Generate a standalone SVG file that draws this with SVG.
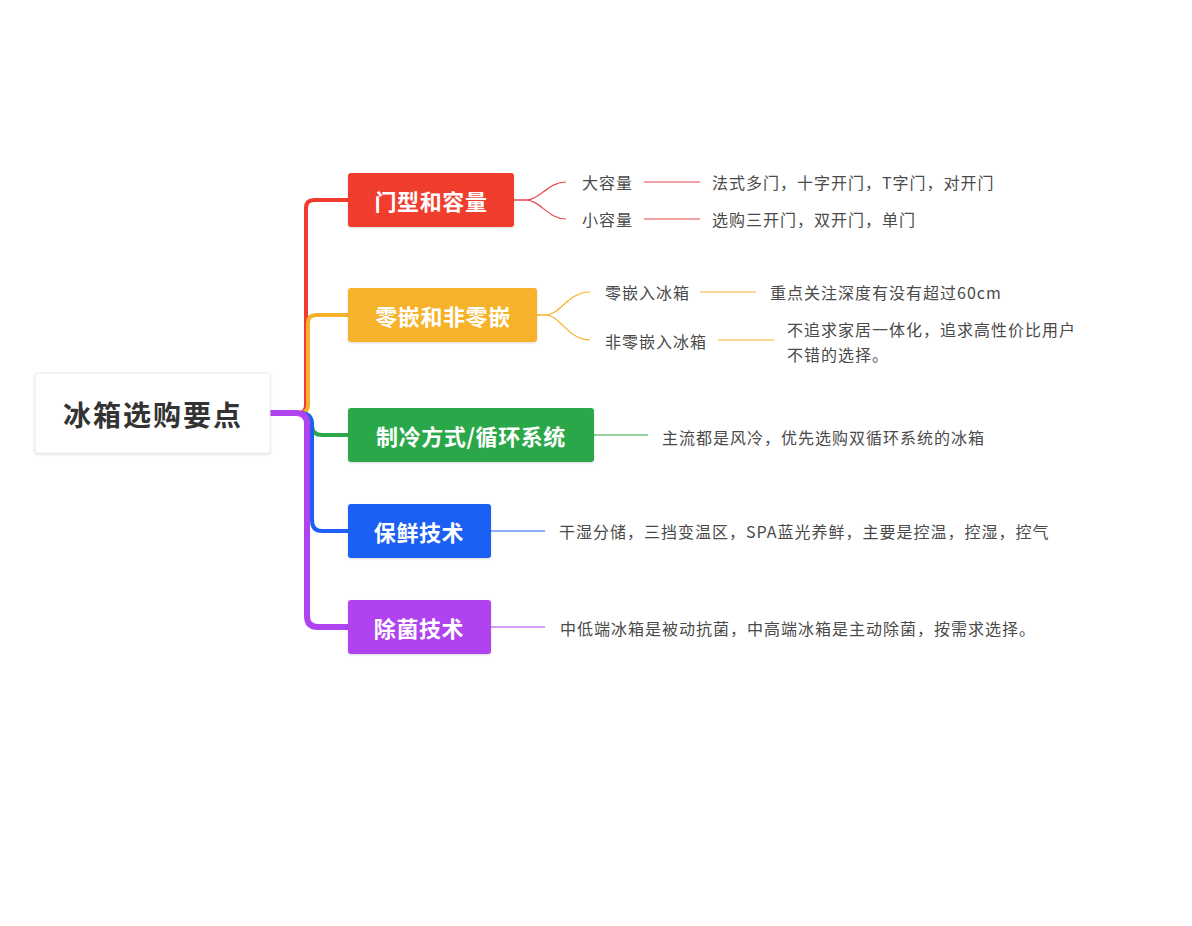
<svg xmlns="http://www.w3.org/2000/svg" width="1192" height="926" viewBox="0 0 1192 926">
<defs>
<style>
.bt{font-family:"Noto Sans CJK SC","Noto Sans",sans-serif;font-weight:bold;font-size:22px;fill:#fff;text-anchor:middle;dominant-baseline:central;letter-spacing:0.6px}
.lt{font-family:"Noto Sans CJK SC","Noto Sans",sans-serif;font-size:16px;fill:#4a4a4a;dominant-baseline:central;letter-spacing:1px}
.rt{font-family:"Noto Sans CJK SC","Noto Sans",sans-serif;font-weight:bold;font-size:28px;fill:#333;text-anchor:middle;dominant-baseline:central;letter-spacing:2px}
.thin{fill:none;stroke-width:1.2}
.main{fill:none;stroke-linecap:round}
</style>
<filter id="sh" x="-10%" y="-10%" width="120%" height="130%">
<feDropShadow dx="0" dy="1" stdDeviation="1.2" flood-color="#000" flood-opacity="0.15"/>
</filter>
</defs>
<rect width="1192" height="926" fill="#fff"/>

<g id="connectors">
<path class="main" d="M270,413 H298 Q306,413 306,405 V208 Q306,200 314,200 H348" stroke="#f03c2e" stroke-width="4"/>
<path class="main" d="M270,413 H300 Q308,413 308,405 V323 Q308,315 316,315 H348" stroke="#f5b22a" stroke-width="4"/>
<path class="main" d="M300,413 Q312,413 312,425 Q312,435 322,435 H348" stroke="#2ba84a" stroke-width="4"/>
<path class="main" d="M300,413 Q312,413 312,425 V520 Q312,531 322,531 H348" stroke="#1f5ff5" stroke-width="4"/>
<path class="main" d="M270,413 H296 Q307,413 307,424 V616 Q307,627 318,627 H348" stroke="#b043f0" stroke-width="6"/>

<path class="thin" d="M513,200 H526 C540,200 548,182 566,182" stroke="#e8474a"/>
<path class="thin" d="M513,200 H526 C540,200 548,219 566,219" stroke="#e8474a"/>
<line class="thin" x1="644" y1="182" x2="700" y2="182" stroke="#e8474a"/>
<line class="thin" x1="644" y1="219" x2="700" y2="219" stroke="#e8474a"/>

<path class="thin" d="M537,315 H546 C560,315 568,292 590,292" stroke="#f5b22a"/>
<path class="thin" d="M537,315 H546 C560,315 568,340 590,340" stroke="#f5b22a"/>
<line class="thin" x1="700" y1="292" x2="756" y2="292" stroke="#f5b22a"/>
<line class="thin" x1="718" y1="340" x2="774" y2="340" stroke="#f5b22a"/>

<line class="thin" x1="594" y1="435" x2="648" y2="435" stroke="#2ba84a"/>
<line class="thin" x1="491" y1="531" x2="545" y2="531" stroke="#1f5ff5"/>
<line class="thin" x1="491" y1="627" x2="545" y2="627" stroke="#b043f0"/>
</g>

<g id="root">
<rect x="35" y="373" width="235" height="80" rx="2" fill="#fff" stroke="#ececec" filter="url(#sh)"/>
<text class="rt" x="153" y="414">冰箱选购要点</text>
</g>

<g id="n1">
<rect x="348" y="173" width="166" height="54" rx="3" fill="#f03c2e" filter="url(#sh)"/>
<text class="bt" x="431" y="200">门型和容量</text>
</g>
<g id="n2">
<rect x="348" y="288" width="189" height="54" rx="3" fill="#f5b22a" filter="url(#sh)"/>
<text class="bt" x="443" y="315">零嵌和非零嵌</text>
</g>
<g id="n3">
<rect x="348" y="408" width="246" height="54" rx="3" fill="#2ba84a" filter="url(#sh)"/>
<text class="bt" x="471" y="435">制冷方式/循环系统</text>
</g>
<g id="n4">
<rect x="348" y="504" width="143" height="54" rx="3" fill="#1f5ff5" filter="url(#sh)"/>
<text class="bt" x="419" y="531">保鲜技术</text>
</g>
<g id="n5">
<rect x="348" y="600" width="143" height="54" rx="3" fill="#b043f0" filter="url(#sh)"/>
<text class="bt" x="419" y="627">除菌技术</text>
</g>

<g id="l1a"><text class="lt" x="582" y="182">大容量</text></g>
<g id="l1a1"><text class="lt" x="712" y="182">法式多门，十字开门，T字门，对开门</text></g>
<g id="l1b"><text class="lt" x="582" y="219">小容量</text></g>
<g id="l1b1"><text class="lt" x="712" y="219">选购三开门，双开门，单门</text></g>

<g id="l2a"><text class="lt" x="605" y="292">零嵌入冰箱</text></g>
<g id="l2a1"><text class="lt" x="770" y="292">重点关注深度有没有超过60cm</text></g>
<g id="l2b"><text class="lt" x="605" y="341">非零嵌入冰箱</text></g>
<g id="l2b1"><text class="lt" x="787" y="329">不追求家居一体化，追求高性价比用户</text><text class="lt" x="787" y="354">不错的选择。</text></g>

<g id="l3"><text class="lt" x="662" y="437">主流都是风冷，优先选购双循环系统的冰箱</text></g>
<g id="l4"><text class="lt" x="559" y="531">干湿分储，三挡变温区，SPA蓝光养鲜，主要是控温，控湿，控气</text></g>
<g id="l5"><text class="lt" x="560" y="628">中低端冰箱是被动抗菌，中高端冰箱是主动除菌，按需求选择。</text></g>
</svg>
